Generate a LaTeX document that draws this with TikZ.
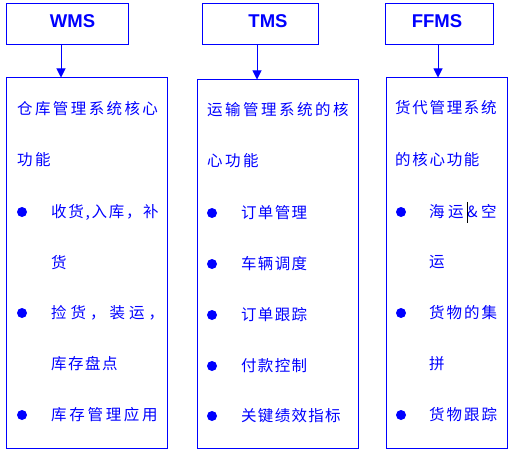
\documentclass[tikz,border=0pt]{standalone}
\usepackage{fontspec}
\setmainfont{Liberation Sans}
\newfontfamily\cjk{Noto Sans CJK SC}
\usetikzlibrary{arrows.meta}
\definecolor{pblue}{RGB}{0,0,255}
\ExplSyntaxOn
\NewDocumentCommand\spc{mm}{\tl_map_inline:nn {#2} {##1\hspace*{#1}}}
\ExplSyntaxOff
\begin{document}
\begin{tikzpicture}[x=1pt,y=-1pt,
  titlebox/.style={draw=pblue, line width=1pt, inner sep=0pt, minimum width=122pt, minimum height=41pt,
    text=pblue, font=\fontsize{18.5}{18.5}\selectfont\bfseries, text height=13.2pt, text depth=7pt},
  bigbox/.style={draw=pblue, line width=1pt, inner sep=0pt},
  ln/.style={anchor=west, inner sep=0pt, text=pblue, font=\cjk\fontsize{15.5}{15.5}\selectfont,
    text height=13.6pt, text depth=1.9pt},
  bul/.style={circle, fill=pblue, inner sep=0pt, minimum size=10pt},
  arr/.style={draw=pblue, line width=1pt, -{Triangle[length=9pt,width=9pt]}}
]
\useasboundingbox (0,0) rectangle (513,454);
% title boxes
\node[titlebox] (wms) at (67,24.5) {\hspace*{11pt}WMS};
\node[titlebox, minimum width=116pt] (tms) at (260,24.5) {\hspace*{16pt}TMS};
\node[titlebox, minimum width=108pt] (ffms) at (439,24.5) {FFMS\hspace*{4pt}};
% big boxes
\node[bigbox, minimum width=161pt, minimum height=370pt] (wmsbox) at (86.5,263) {};
\node[bigbox, minimum width=161pt, minimum height=368pt] (tmsbox) at (277.5,264) {};
\node[bigbox, minimum width=121pt, minimum height=370pt] (ffmsbox) at (446.5,263) {};
% arrows
\coordinate (wa) at (61,0);
\coordinate (ta) at (257,0);
\coordinate (fa) at (438,0);
\draw[arr] (wa |- wms.south) -- (wa |- wmsbox.north);
\draw[arr] (ta |- tms.south) -- (ta |- tmsbox.north);
\draw[arr] (fa |- ffms.south) -- (fa |- ffmsbox.north);
% WMS content
\node[ln] (w1) at (17,109) {\spc{2.4pt}{仓库管理系统核心}};
\node[ln] (w2) at (17,160) {\spc{2.4pt}{功能}};
\node[bul] (wb1) at (22,212) {};
\node[ln] (w3) at (51,212) {\spc{1.7pt}{收货,入库，补}};
\node[ln] (w4) at (51,263) {货};
\node[bul] (wb2) at (22,313) {};
\node[ln] (w5) at (51,313) {\spc{4pt}{捡货，装运，}};
\node[ln] (w6) at (51,364) {\spc{1.5pt}{库存盘点}};
\node[bul] (wb3) at (22,415) {};
\node[ln] (w7) at (51,415) {\spc{2.7pt}{库存管理应用}};
% TMS content
\node[ln] (t1) at (207,110) {\spc{2.5pt}{运输管理系统的核}};
\node[ln] (t2) at (207,161) {\spc{2.5pt}{心功能}};
\node[bul] (tb1) at (212,213) {};
\node[ln] (t3) at (241,213) {\spc{1.3pt}{订单管理}};
\node[bul] (tb2) at (212,264) {};
\node[ln] (t4) at (241,264) {\spc{1.3pt}{车辆调度}};
\node[bul] (tb3) at (212,315) {};
\node[ln] (t5) at (241,315) {\spc{1.3pt}{订单跟踪}};
\node[bul] (tb4) at (212,366) {};
\node[ln] (t6) at (241,366) {\spc{1.3pt}{付款控制}};
\node[bul] (tb5) at (212,416) {};
\node[ln] (t7) at (241,416) {\spc{1.3pt}{关键绩效指标}};
% FFMS content
\node[ln] (f1) at (395,108) {\spc{1.7pt}{货代管理系统}};
\node[ln] (f2) at (395,160) {\spc{1.7pt}{的核心功能}};
\node[bul] (fb1) at (401,212) {};
\node[ln] (f3) at (429,212) {\spc{3.5pt}{海运\&空}};
\node[ln] (f4) at (429,262) {运};
\node[bul] (fb2) at (401,313) {};
\node[ln] (f5) at (429,313) {\spc{2pt}{货物的集}};
\node[ln] (f6) at (429,364) {拼};
\node[bul] (fb3) at (401,415) {};
\node[ln] (f7) at (429,415) {\spc{2pt}{货物跟踪}};
\draw[black, line width=0.8pt] (467,202) -- (467,223);
\end{tikzpicture}
\end{document}
